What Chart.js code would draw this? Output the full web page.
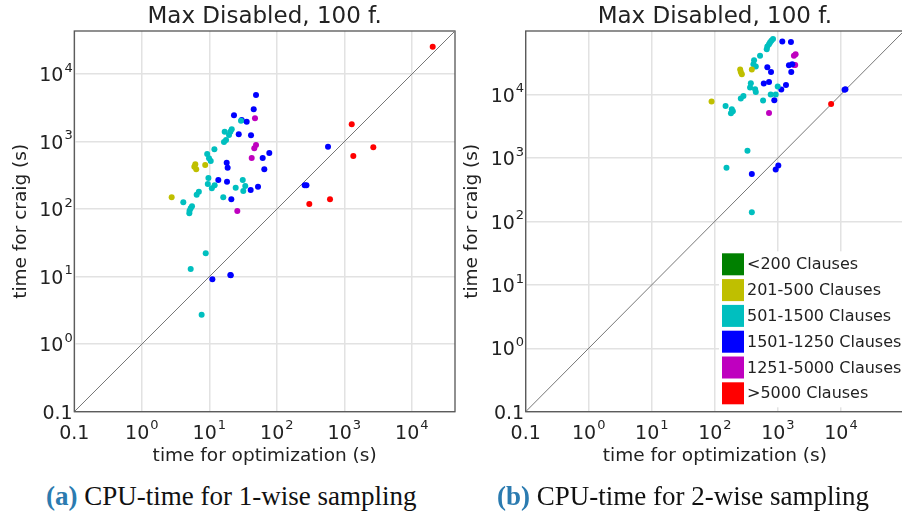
<!DOCTYPE html>
<html>
<head>
<meta charset="utf-8">
<script src="https://cdn.jsdelivr.net/npm/chart.js@4.4.1/dist/chart.umd.min.js"></script>
<style>
  body { margin: 0; background: #fff; width: 902px; height: 513px; overflow: hidden; position: relative; }
  #chartA { position: absolute; left: 0; top: 0; }
  #chartB { position: absolute; left: 458px; top: 0; }
  .caption { position: absolute; top: 481px; font-family: "Liberation Serif", serif; font-size: 27px; line-height: 30px; color: #111; white-space: nowrap; }
  .caption b { color: #2b7bb0; }
</style>
</head>
<body>
<canvas id="chartA" width="460" height="470"></canvas>
<canvas id="chartB" width="450" height="470"></canvas>
<div class="caption" style="left:46px"><b>(a)</b> CPU-time for 1-wise sampling</div>
<div class="caption" style="left:497px"><b>(b)</b> CPU-time for 2-wise sampling</div>
<script>
// clause-size groups (legend order)
const groups = ['<200 Clauses', '201-500 Clauses', '501-1500 Clauses', '1501-1250 Clauses', '1251-5000 Clauses', '>5000 Clauses'];
const groupColors = ['#008000', '#bfbf00', '#00bfbf', '#0000ff', '#bf00bf', '#ff0000'];

// axis ticks
const tickValues = [0.1, 1, 10, 100, 1000, 10000];
const tickBases = ['0.1', '10', '10', '10', '10', '10'];
const tickExps = ['', '0', '1', '2', '3', '4'];

// (a) 1-wise sampling: time for optimization / time for craig, per group
const optA = [
  [],
  [6.2, 6.0, 6.4, 8.7, 2.77],
  [29.5, 21.5, 20.5, 19.6, 16.9, 17.7, 16.5, 11.9, 9.3, 9.9, 10.5, 9.7, 9.5, 10.9, 12.0, 31.3, 24.6, 34.1, 31.9, 16.1, 7.0, 6.5, 4.12, 5.54, 5.3, 5.1, 5.06, 8.85, 5.3, 7.7],
  [49.2, 45.5, 23.2, 30.2, 35.8, 27.3, 41.5, 77.4, 61.8, 18.1, 18.7, 65.3, 13.6, 18.3, 52.7, 41.0, 21.2, 11.1, 20.5, 20.8, 574, 259, 275],
  [47.5, 49.2, 46.4, 42.5, 26.0],
  [20400, 1288, 2690, 1360, 303, 614]
];
const craigA = [
  [],
  [462, 426, 390, 452, 150],
  [2047, 1527, 1406, 1257, 1406, 1060, 990, 771, 657, 568, 518, 290, 236, 204, 226, 271, 208, 221, 186, 150, 182, 164, 127, 111, 103, 95, 87, 22.2, 13.0, 2.74],
  [4920, 3020, 2460, 2095, 1980, 1288, 1245, 680, 574, 489, 412, 390, 271, 255, 215, 192, 140, 9.2, 10.6, 10.5, 843, 226, 226],
  [2220, 894, 798, 574, 94],
  [25550, 1811, 826, 614, 119, 140]
];

// (b) 2-wise sampling
const optB = [
  [],
  [252, 258, 268, 386, 88.7],
  [837, 787, 750, 723, 680, 665, 521, 419, 409, 446, 372, 362, 435, 446, 284, 258, 148, 186, 193, 180, 582, 769, 923, 993, 329, 153, 386],
  [1174, 1610, 680, 778, 1497, 1688, 1629, 723, 597, 1343, 1132, 877, 1015, 923, 386, 11780, 11400],
  [1910, 1795, 1800, 1880, 723],
  [6980]
];
const craigB = [
  [],
  [24700, 22650, 20850, 24700, 7720],
  [74500, 70000, 66000, 62100, 57100, 51800, 40600, 34700, 30000, 27600, 15000, 12850, 12080, 10950, 9470, 8610, 6580, 5840, 5430, 5050, 8010, 9960, 9960, 13330, 1300, 700, 139],
  [68500, 66800, 26900, 22650, 28900, 30000, 22650, 15750, 14860, 14130, 11950, 8100, 762, 658, 555, 12080, 11900],
  [43150, 40600, 29240, 29240, 5100],
  [7080]
];

// y = x reference line
const diagonal = [0.1, 100000];

const FONT = '"DejaVu Sans", sans-serif';
Chart.defaults.font.family = FONT;
Chart.defaults.color = '#222';

function drawPow(ctx, base, exp, x, y, align) {
  ctx.font = '19px ' + FONT;
  const wb = ctx.measureText(base).width;
  ctx.font = '13px ' + FONT;
  const we = exp ? ctx.measureText(exp).width + 1 : 0;
  const x0 = align === 'right' ? x - wb - we : x - (wb + we) / 2;
  ctx.textAlign = 'left';
  ctx.textBaseline = 'alphabetic';
  ctx.font = '19px ' + FONT;
  ctx.fillText(base, x0, y);
  if (exp) {
    ctx.font = '13px ' + FONT;
    ctx.fillText(exp, x0 + wb + 1, y - 9.5);
  }
}

const tickLabels = {
  id: 'tickLabels',
  afterDraw(chart) {
    const ctx = chart.ctx;
    const xs = chart.scales.x, ys = chart.scales.y;
    const a = chart.chartArea;
    ctx.save();
    ctx.fillStyle = '#222';
    tickValues.forEach(function (v, i) {
      drawPow(ctx, tickBases[i], tickExps[i], xs.getPixelForValue(v), a.bottom + 27, 'center');
      drawPow(ctx, tickBases[i], tickExps[i], a.left - 1.6, ys.getPixelForValue(v) + 7.2, 'right');
    });
    ctx.restore();
  }
};

const frame = {
  id: 'frame',
  beforeDatasetsDraw(chart) {
    const ctx = chart.ctx, a = chart.chartArea;
    ctx.save();
    ctx.strokeStyle = '#555';
    ctx.lineWidth = 1.3;
    ctx.strokeRect(a.left, a.top, a.right - a.left, a.bottom - a.top);
    ctx.restore();
  }
};

const boxLegend = {
  id: 'boxLegend',
  afterDraw(chart) {
    const ctx = chart.ctx, a = chart.chartArea;
    const left = a.left + 196.3, top = a.top + 222.3;
    ctx.save();
    ctx.fillStyle = '#fff';
    ctx.fillRect(left - 3, top - 2, 200, 156);
    ctx.font = '16px ' + FONT;
    ctx.textBaseline = 'middle';
    ctx.textAlign = 'left';
    groups.forEach(function (g, i) {
      const y = top + i * 25.8;
      ctx.fillStyle = groupColors[i];
      ctx.fillRect(left, y, 22, 22);
      ctx.fillStyle = '#222';
      ctx.fillText(g, left + 25, y + 12);
    });
    ctx.restore();
  }
};

function buildDatasets(optArr, craigArr) {
  const ds = [{
    type: 'line',
    data: diagonal.map(function (v) { return { x: v, y: v }; }),
    borderColor: '#777',
    borderWidth: 1,
    pointRadius: 0,
    order: 10
  }];
  groups.forEach(function (g, i) {
    ds.push({
      label: g,
      data: optArr[i].map(function (v, j) { return { x: v, y: craigArr[i][j] }; }),
      backgroundColor: groupColors[i],
      borderWidth: 0,
      pointRadius: 3,
      order: 1
    });
  });
  return ds;
}

function axis(min, max, titleText, isX, fitSize, titlePad) {
  return {
    type: 'logarithmic',
    min: min,
    max: max,
    afterBuildTicks: function (s) { s.ticks = tickValues.map(function (v) { return { value: v }; }); },
    afterFit: function (s) { if (isX) { s.height = fitSize; } else { s.width = fitSize; } },
    ticks: { display: false },
    grid: { color: '#e2e2e2', lineWidth: 1.5, drawTicks: false },
    border: { display: false },
    title: { display: true, text: titleText, font: { size: 18.5 }, color: '#222', padding: titlePad }
  };
}

function makeChart(id, optArr, craigArr, max, yWidth, yTitlePad, padRight, extra) {
  return new Chart(document.getElementById(id), {
    type: 'scatter',
    data: { datasets: buildDatasets(optArr, craigArr) },
    options: {
      responsive: false,
      animation: false,
      layout: { padding: { left: 0, right: padRight, top: 0, bottom: 0 } },
      scales: {
        x: axis(0.1, max, 'time for optimization (s)', true, 58.3, { top: 0, bottom: 3 }),
        y: axis(0.1, max, 'time for craig (s)', false, yWidth, { top: yTitlePad, bottom: 0 })
      },
      plugins: {
        legend: { display: false },
        tooltip: { enabled: false },
        title: {
          display: true,
          text: 'Max Disabled, 100 f.',
          fullSize: false,
          color: '#222',
          font: { size: 23, weight: 'normal' },
          padding: { top: 3.4, bottom: 0 }
        }
      }
    },
    plugins: [frame, tickLabels].concat(extra)
  });
}

makeChart('chartA', optA, craigA, 43650, 74.3, 10, 5, []);
makeChart('chartB', optB, craigB, 100000, 67.7, 3, 2.5, [boxLegend]);
</script>
</body>
</html>
